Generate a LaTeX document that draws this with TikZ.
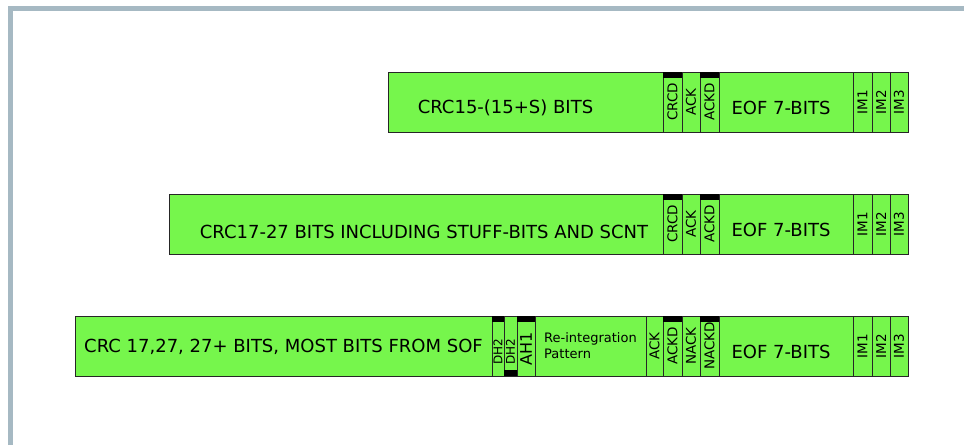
\documentclass[tikz,border=0pt]{standalone}
\usepackage{graphicx}
\usepackage{fontspec}
\setmainfont{DejaVu Sans}
\usetikzlibrary{positioning}

\definecolor{fieldgreen}{HTML}{76F64C}
\definecolor{framegray}{HTML}{A6B9C3}
% text moved inside its field, the field itself stays put
\newcommand{\moved}[3]{\raisebox{#2}[\height][\depth]{\rlap{\hspace*{#1}#3}\phantom{#3}}}

\begin{document}
\begin{tikzpicture}[x=1pt,y=-1pt,node distance=0pt,
      field/.style={draw=black!85,fill=fieldgreen,line width=1pt,minimum height=60pt,
        inner sep=0pt,outer sep=0pt,font=\fontsize{18}{21}\selectfont},
      bit/.style={field,font=\fontsize{13.5}{15}\selectfont},
      bar/.style={fill=black}]

      \useasboundingbox (0,0) rectangle (964,445);
      \draw[framegray,line width=5pt] (10.5,445) -- (10.5,8) -- (964,8);

      % first frame
      \node[field,anchor=north west,minimum width=275pt] (crcA) at (388,72) {\moved{-20pt}{-6pt}{CRC15-(15+S) BITS}};
      \node[bit,minimum width=19pt,right=of crcA] (crcdA) {\rotatebox{90}{CRCD}};
      \node[bit,minimum width=18pt,right=of crcdA] (ackA) {\rotatebox{90}{ACK}};
      \node[bit,minimum width=19pt,right=of ackA] (ackdA) {\rotatebox{90}{ACKD}};
      \node[field,minimum width=134pt,right=of ackdA] (eofA) {\moved{-5pt}{-6pt}{EOF 7-BITS}};
      \node[bit,minimum width=19pt,right=of eofA] (imA1) {\rotatebox{90}{IM1}};
      \node[bit,minimum width=18pt,right=of imA1] (imA2) {\rotatebox{90}{IM2}};
      \node[bit,minimum width=18pt,right=of imA2] (imA3) {\rotatebox{90}{IM3}};

      % second frame
      \node[field,anchor=north west,minimum width=494pt] (crcB) at (169,194) {\moved{8pt}{-8pt}{CRC17-27 BITS INCLUDING STUFF-BITS AND SCNT}};
      \node[bit,minimum width=19pt,right=of crcB] (crcdB) {\rotatebox{90}{CRCD}};
      \node[bit,minimum width=18pt,right=of crcdB] (ackB) {\rotatebox{90}{ACK}};
      \node[bit,minimum width=19pt,right=of ackB] (ackdB) {\rotatebox{90}{ACKD}};
      \node[field,minimum width=134pt,right=of ackdB] (eofB) {\moved{-5pt}{-6pt}{EOF 7-BITS}};
      \node[bit,minimum width=19pt,right=of eofB] (imB1) {\rotatebox{90}{IM1}};
      \node[bit,minimum width=18pt,right=of imB1] (imB2) {\rotatebox{90}{IM2}};
      \node[bit,minimum width=18pt,right=of imB2] (imB3) {\rotatebox{90}{IM3}};

      % third frame
      \node[field,anchor=north west,minimum width=417pt] (crcC) at (75,316) {\moved{0pt}{-1pt}{CRC 17,27, 27+ BITS, MOST BITS FROM SOF}};
      \node[bit,minimum width=12pt,right=of crcC,font=\fontsize{12}{13}\selectfont] (dhC1) {\moved{0pt}{-6pt}{\rotatebox{90}{DH2}}};
      \node[bit,minimum width=13pt,right=of dhC1,font=\fontsize{12}{13}\selectfont] (dhC2) {\moved{0pt}{-6pt}{\rotatebox{90}{DH2}}};
      \node[bit,minimum width=18pt,right=of dhC2,font=\fontsize{16}{17}\selectfont] (ahC) {\moved{0pt}{-3pt}{\rotatebox{90}{AH1}}};
      \node[field,minimum width=111pt,right=of ahC,align=left,font=\fontsize{13}{16}\selectfont] (reintC) {Re-integration\\Pattern};
      \node[bit,minimum width=17pt,right=of reintC] (ackC) {\rotatebox{90}{ACK}};
      \node[bit,minimum width=19pt,right=of ackC] (ackdC) {\rotatebox{90}{ACKD}};
      \node[bit,minimum width=18pt,right=of ackdC] (nackC) {\rotatebox{90}{NACK}};
      \node[bit,minimum width=19pt,right=of nackC] (nackdC) {\rotatebox{90}{NACKD}};
      \node[field,minimum width=134pt,right=of nackdC] (eofC) {\moved{-5pt}{-6pt}{EOF 7-BITS}};
      \node[bit,minimum width=19pt,right=of eofC] (imC1) {\rotatebox{90}{IM1}};
      \node[bit,minimum width=18pt,right=of imC1] (imC2) {\rotatebox{90}{IM2}};
      \node[bit,minimum width=18pt,right=of imC2] (imC3) {\rotatebox{90}{IM3}};

      % black marks
      \foreach \f in {crcdA,ackdA,crcdB,ackdB,dhC1,ahC,ackdC,nackdC}
        \fill[bar] (\f.north west) rectangle ([yshift=-6pt]\f.north east);
      \fill[bar] (dhC2.south west) rectangle ([yshift=6pt]dhC2.south east);
    \end{tikzpicture}
\end{document}
